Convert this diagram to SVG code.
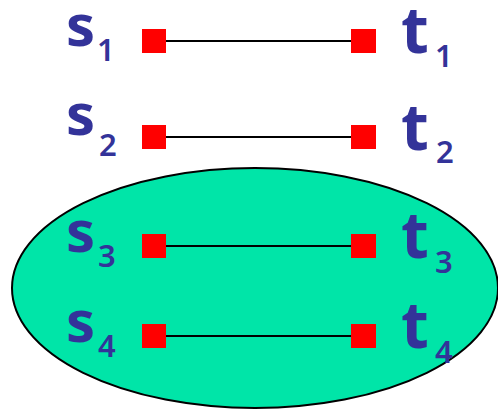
<svg xmlns="http://www.w3.org/2000/svg" width="498" height="409" viewBox="0 0 498 409">
<style>
.lbl{font-family:"Comic Sans MS","Noto Sans",sans-serif;fill:#333399;font-size:58px;font-weight:bold}
.tt{font-size:64px}
.sub{font-size:31px;font-weight:600}
.sq{fill:#FF0000}
.edge{stroke:#000;stroke-width:2}
</style>
<rect width="498" height="409" fill="#fff"/>
<ellipse id="cluster" cx="255" cy="288" rx="243" ry="120" fill="#00E5A8" stroke="#000" stroke-width="2"/>
<g id="connectors">
<line class="edge" x1="166" y1="41" x2="351" y2="41"/>
<line class="edge" x1="166" y1="137" x2="351" y2="137"/>
<line class="edge" x1="166" y1="246" x2="351" y2="246"/>
<line class="edge" x1="166" y1="336" x2="351" y2="336"/>
</g>
<g id="s1"><rect class="sq" x="142" y="29" width="24" height="24"/><text class="lbl" x="66" y="46">s</text><text class="lbl sub" x="97" y="61">1</text></g>
<g id="t1"><rect class="sq" x="351" y="29" width="25" height="24"/><text class="lbl tt" x="401" y="53">t</text><text class="lbl sub" x="435" y="67">1</text></g>
<g id="s2"><rect class="sq" x="142" y="125" width="24" height="24"/><text class="lbl" x="66" y="135">s</text><text class="lbl sub" x="99" y="156">2</text></g>
<g id="t2"><rect class="sq" x="351" y="125" width="25" height="24"/><text class="lbl tt" x="401" y="150">t</text><text class="lbl sub" x="436" y="163">2</text></g>
<g id="s3"><rect class="sq" x="142" y="234" width="24" height="24"/><text class="lbl" x="66" y="252">s</text><text class="lbl sub" x="98" y="267">3</text></g>
<g id="t3"><rect class="sq" x="351" y="234" width="25" height="24"/><text class="lbl tt" x="401" y="258">t</text><text class="lbl sub" x="435" y="273">3</text></g>
<g id="s4"><rect class="sq" x="142" y="324" width="24" height="24"/><text class="lbl" x="66" y="342">s</text><text class="lbl sub" x="98" y="357">4</text></g>
<g id="t4"><rect class="sq" x="351" y="324" width="25" height="24"/><text class="lbl tt" x="401" y="348">t</text><text class="lbl sub" x="435" y="363">4</text></g>
</svg>
